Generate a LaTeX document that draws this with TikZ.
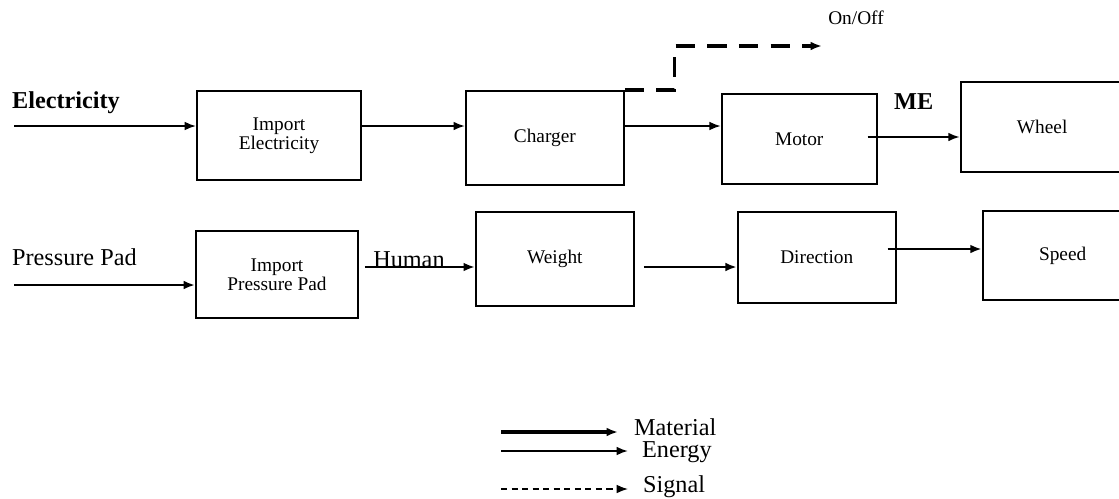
\documentclass[tikz,border=0pt]{standalone}
\usepackage{fontspec}
\setmainfont{Liberation Serif}
\usetikzlibrary{arrows.meta,positioning}
\newcommand{\boxfont}{\fontsize{11}{11}\selectfont}
\newcommand{\labfont}{\fontsize{13.8}{15}\selectfont}

\begin{document}
\begin{tikzpicture}[x=0.02cm,y=-0.02cm,>={Latex[length=6.5pt,width=5pt]}]
\tikzstyle{block}=[draw,line width=1.1pt,align=center,font=\boxfont,inner sep=2pt]
\tikzstyle{energy}=[->,line width=1.1pt]
\tikzstyle{material}=[->,line width=1.6pt]
\tikzstyle{signal}=[->,line width=1.8pt,dash pattern=on 11pt off 7pt]
\tikzstyle{lab}=[font=\labfont,inner sep=1pt]
\clip (0,0) rectangle (1119,498);
% top row: electricity
\node[block,minimum width=3.28cm,minimum height=1.78cm] (ie) at (279,135.5) {Import\\Electricity};
\node[block,minimum width=3.16cm,minimum height=1.88cm,right=2.06cm of ie,yshift=-0.05cm] (ch) {Charger};
\node[block,minimum width=3.1cm,minimum height=1.8cm,right=1.92cm of ch,yshift=-0.02cm] (mo) {Motor};
\node[block,minimum width=3.26cm,minimum height=1.8cm,right=1.64cm of mo,yshift=0.24cm] (wh) {Wheel};
% bottom row: pressure pad
\node[block,minimum width=3.24cm,minimum height=1.74cm] (ip) at (277,274.5) {Import\\Pressure Pad};
\node[block,minimum width=3.16cm,minimum height=1.88cm,right=2.32cm of ip,yshift=0.31cm] (we) {Weight};
\node[block,minimum width=3.16cm,minimum height=1.82cm,right=2.04cm of we,yshift=0.03cm] (di) {Direction};
\node[block,minimum width=3.2cm,minimum height=1.78cm,right=1.7cm of di,yshift=0.04cm] (sp) {Speed};
% inputs
\coordinate (elin) at (14,126);
\coordinate (ppin) at (14,285);
\node[lab,anchor=west,font={\labfont\bfseries}] (el) at (10,103) {Electricity};
\node[lab,anchor=west] (pp) at (10,257) {Pressure Pad};
\draw[energy] (elin) -- (elin -| ie.west);
\draw[material] (ppin) -- (ppin -| ip.west);
% flows
\draw[energy] ([yshift=0.19cm]ie.east) -- ([yshift=0.19cm]ie.east -| ch.west);
\draw[energy] ([yshift=0.24cm]ch.east) -- ([yshift=0.24cm]ch.east -| mo.west);
\draw[energy] ([xshift=-0.2cm,yshift=0.04cm]mo.east) -- node[lab,above=14pt,font={\labfont\bfseries}] {ME} ([yshift=0.04cm]mo.east -| wh.west);
\draw[material] ([xshift=0.12cm,yshift=0.15cm]ip.east) -- node[lab,above=-1pt,pos=0.4,inner sep=0pt] {Human} ([yshift=0.15cm]ip.east -| we.west);
\draw[material] ([xshift=0.18cm,yshift=-0.16cm]we.east) -- ([yshift=-0.16cm]we.east -| di.west);
\draw[material] ([xshift=-0.18cm,yshift=0.17cm]di.east) -- ([yshift=0.17cm]di.east -| sp.west);
% on/off signal
\coordinate (onoff) at (822,46);
\node[font=\boxfont] (oo) at (856,18) {On/Off};
\draw[signal] (ch.north east) -- ++(1cm,0) |- (onoff);
% legend
\coordinate (m0) at (501,432);
\coordinate (e0) at (501,451);
\coordinate (s0) at (501,489);
\node[lab,anchor=west] (lmat) at (632,427) {Material};
\node[lab,anchor=west] (leng) at (640,452) {Energy};
\node[lab,anchor=west] (lsig) at (641,487) {Signal};
\draw[->,line width=1.8pt] (m0) -- ([xshift=-0.28cm]lmat.west |- m0);
\draw[->,line width=1.1pt] (e0) -- ([xshift=-0.24cm]leng.west |- e0);
\draw[->,line width=0.9pt,dash pattern=on 3.5pt off 2.5pt] (s0) -- ([xshift=-0.26cm]lsig.west |- s0);
\end{tikzpicture}
\end{document}
